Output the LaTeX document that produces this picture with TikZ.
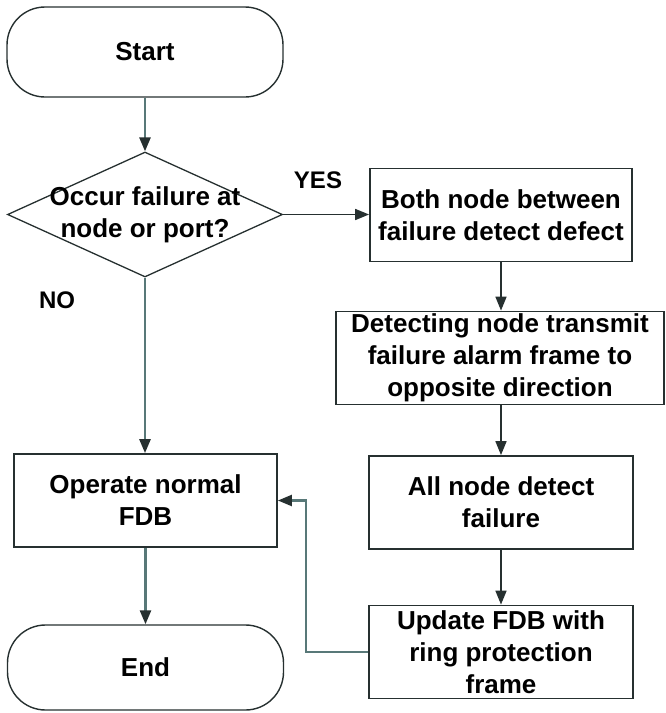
\documentclass[tikz,border=0pt]{standalone}
\usepackage{fontspec}
\setmainfont{Liberation Sans}
\usetikzlibrary{shapes.geometric,arrows.meta}
\definecolor{edge}{RGB}{38,48,48}
\definecolor{flow}{RGB}{88,120,120}
\begin{document}
\begin{tikzpicture}[x=1pt,y=-1pt,
  txt/.style={font=\bfseries\fontsize{26}{32}\selectfont},
  box/.style={txt,draw=edge,line width=1.8pt,minimum width=#1,minimum height=93pt,
              align=center,inner sep=0pt},
  terminal/.style={txt,draw=edge,line width=1.4pt,rounded corners=38pt,
              minimum width=276pt,minimum height=#1,inner sep=0pt},
  decision/.style={draw=edge,line width=1.3pt,diamond,aspect=2.2,
              minimum width=275pt,minimum height=125pt,inner sep=0pt},
  tag/.style={font=\bfseries\fontsize{24}{28}\selectfont},
  tip/.style={-{Triangle[length=14pt,width=11pt,color=edge]}},
  flowthick/.style={tip,draw=flow,line width=2.6pt},
  flowthin/.style={tip,draw=edge,line width=1.7pt},
  loopback/.style={tip,draw=flow,line width=2.2pt}
]
\useasboundingbox (0,0) rectangle (666,713);

% left column
\node[terminal=90pt] (start) at (145,52) {Start};
\node[decision,label={[txt,align=center]center:Occur failure at\\node or port?}] (q) at (145,214.5) {};
\node[box=263pt] (op) at (145.5,500.5) {Operate normal\\FDB};
\node[terminal=85pt] (stop) at (145.5,667.5) {End};

% right column
\node[box=262pt] (b1) at (501,215) {Both node between\\failure detect defect};
\node[box=328pt] (b2) at (500,358) {Detecting node transmit\\failure alarm frame to\\opposite direction};
\node[box=264pt] (b3) at (501,502.5) {All node detect\\failure};
\node[box=264pt] (b4) at (501,652) {Update FDB with\\ring protection\\frame};

% branch labels
\node[tag] (yes) at (318,180) {YES};
\node[tag] (no) at (57,300) {NO};

% connectors
\draw[flowthick] (start.south) -- (q.north);
\draw[flowthick] (q.south) -- (q.south |- op.north);
\draw[flowthick] (op.south) -- (op.south |- stop.north);
\draw[flowthin] (q.east) -- (q.east -| b1.west);
\draw[flowthin] (b1.south) -- (b1.south |- b2.north);
\draw[flowthin] (b1.south |- b2.south) -- (b1.south |- b3.north);
\draw[flowthin] (b3.south) -- (b4.north);
\draw[loopback] (b4.west) -- ++(-62.5,0) |- (op.east);
\end{tikzpicture}
\end{document}
